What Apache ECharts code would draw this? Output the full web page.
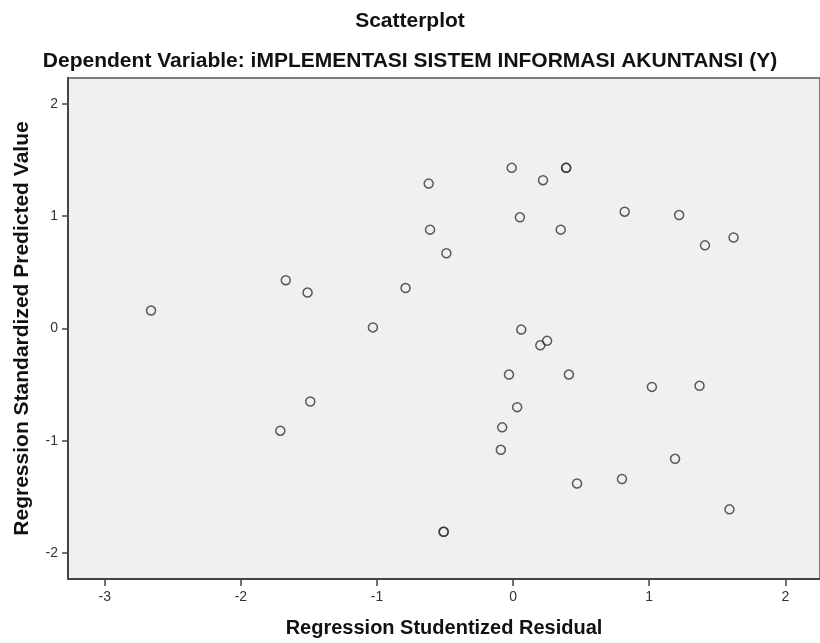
<!DOCTYPE html>
<html>
<head>
<meta charset="utf-8">
<title>Scatterplot</title>
<script src="https://cdn.jsdelivr.net/npm/echarts@6/dist/echarts.min.js"></script>
<style>
  * { margin: 0; padding: 0; }
  html, body { background: #fff; }
  #main { width: 820px; height: 643px; }
</style>
</head>
<body>
<div id="main"></div>
<script>
// Regression Studentized Residual (x) vs Regression Standardized Predicted Value (y)
var residual = [
  -2.66, -1.67, -1.51, -1.03, -0.79, -0.62, -0.61, -0.49, -1.49, -1.71,
  -0.51, -0.51, -0.01, 0.39, 0.39, 0.22, 0.05, 0.35, 0.82, 1.22,
  1.62, 1.41, 0.06, 0.25, 0.20, -0.03, 0.41, 1.02, 1.37, 0.03,
  -0.08, -0.09, 1.19, 0.47, 0.80, 1.59
];
var predicted = [
  0.16, 0.43, 0.32, 0.01, 0.36, 1.29, 0.88, 0.67, -0.65, -0.91,
  -1.81, -1.81, 1.43, 1.43, 1.43, 1.32, 0.99, 0.88, 1.04, 1.01,
  0.81, 0.74, -0.01, -0.11, -0.15, -0.41, -0.41, -0.52, -0.51, -0.70,
  -0.88, -1.08, -1.16, -1.38, -1.34, -1.61
];
var xTicks = [-3, -2, -1, 0, 1, 2];
var yTicks = [-2, -1, 0, 1, 2];

var points = residual.map(function (x, i) { return [x, predicted[i]]; });

var chart = echarts.init(document.getElementById('main'));
var font = 'Liberation Sans, Arial, sans-serif';
chart.setOption({
  backgroundColor: '#ffffff',
  animation: false,
  title: [
    {
      text: 'Scatterplot',
      left: 'center',
      top: 6,
      textStyle: { fontFamily: font, fontSize: 21, fontWeight: 'bold', color: '#111' }
    },
    {
      text: 'Dependent Variable: iMPLEMENTASI SISTEM INFORMASI AKUNTANSI (Y)',
      left: 'center',
      top: 46,
      textStyle: { fontFamily: font, fontSize: 21, fontWeight: 'bold', color: '#111' }
    }
  ],
  grid: {
    left: 68, right: -1, top: 78, bottom: 60,
    show: true,
    backgroundColor: '#f0f0f0',
    borderColor: '#555',
    borderWidth: 1.5
  },
  xAxis: {
    type: 'value',
    min: -3.27, max: 2.255,
    name: 'Regression Studentized Residual',
    nameLocation: 'middle',
    nameGap: 39,
    nameTextStyle: { fontFamily: font, fontSize: 20, fontWeight: 'bold', color: '#111' },
    axisLine: { show: true, onZero: false, lineStyle: { color: '#444', width: 2 } },
    axisTick: { show: true, length: 7, lineStyle: { color: '#444', width: 1.5 }, customValues: xTicks },
    axisLabel: { fontFamily: font, fontSize: 14, color: '#333', margin: 11, customValues: xTicks },
    splitLine: { show: false }
  },
  yAxis: {
    type: 'value',
    min: -2.23, max: 2.23,
    name: 'Regression Standardized Predicted Value',
    nameLocation: 'middle',
    nameGap: 35,
    nameTextStyle: { fontFamily: font, fontSize: 21, fontWeight: 'bold', color: '#111' },
    axisLine: { show: true, onZero: false, lineStyle: { color: '#444', width: 2 } },
    axisTick: { show: true, length: 6, lineStyle: { color: '#444', width: 1.5 }, customValues: yTicks },
    axisLabel: { fontFamily: font, fontSize: 14, color: '#333', margin: 10, customValues: yTicks },
    splitLine: { show: false }
  },
  series: [{
    type: 'scatter',
    data: points,
    symbol: 'circle',
    symbolSize: 9,
    itemStyle: { color: 'rgba(0,0,0,0)', borderColor: '#333', borderWidth: 1.5 }
  }]
});
</script>
</body>
</html>
